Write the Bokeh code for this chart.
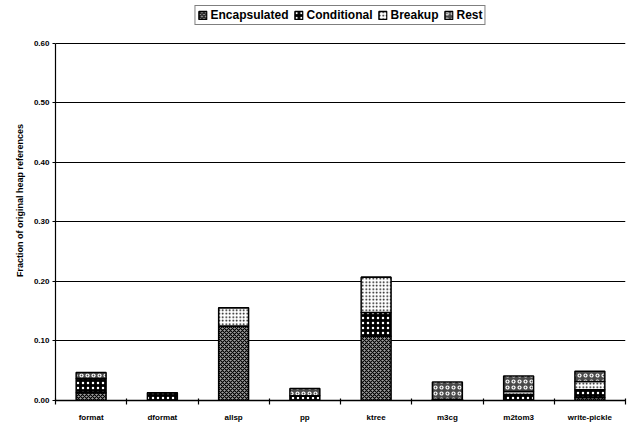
from bokeh.plotting import figure
from bokeh.models import (ColumnDataSource, Range1d, FixedTicker, Legend, LegendItem, NumeralTickFormatter)
from bokeh.transform import stack
from bokeh.embed import file_html
from bokeh.resources import INLINE

programs = ["format", "dformat", "allsp", "pp", "ktree", "m3cg", "m2tom3", "write-pickle"]
encapsulated = [0.013, 0.000, 0.125, 0.000, 0.108, 0.000, 0.000, 0.005]
conditional = [0.024, 0.013, 0.000, 0.008, 0.040, 0.002, 0.010, 0.013]
breakup = [0.000, 0.000, 0.031, 0.000, 0.059, 0.000, 0.005, 0.014]
rest = [0.010, 0.000, 0.000, 0.012, 0.000, 0.029, 0.026, 0.017]
series = ["Encapsulated", "Conditional", "Breakup", "Rest"]
y_ticks = [0.0, 0.1, 0.2, 0.3, 0.4, 0.5, 0.6]

xs = [i + 0.5 for i in range(len(programs))]
source = ColumnDataSource(dict(x=xs, Encapsulated=encapsulated, Conditional=conditional,
                               Breakup=breakup, Rest=rest))

FONT = "Liberation Sans"

p = figure(width=628, height=424, output_backend="svg", toolbar_location=None,
           x_range=Range1d(0, 8), y_range=Range1d(0, 0.672),
           min_border_left=55, min_border_right=3, min_border_top=0, min_border_bottom=22)
p.outline_line_color = None

styles = [
    dict(fill_color="#a0a0a0", hatch_pattern="diagonal_cross", hatch_color="black", hatch_scale=4, hatch_weight=1.1),
    dict(fill_color="black", hatch_pattern="dot", hatch_color="white", hatch_scale=5, hatch_weight=1.5),
    dict(fill_color="white", hatch_pattern="dot", hatch_color="black", hatch_scale=3.5, hatch_weight=1.5),
    dict(fill_color="#4a4a4a", hatch_pattern="ring", hatch_color="white", hatch_scale=6, hatch_weight=1.2),
]

renderers = []
for i, name in enumerate(series):
    r = p.vbar(x="x", width=0.42, bottom=stack(*series[:i]),
               top=stack(*series[:i + 1]), source=source,
               line_color="black", line_width=1.5, **styles[i])
    renderers.append(r)

legend = Legend(items=[LegendItem(label=n, renderers=[r]) for n, r in zip(series, renderers)],
                orientation="horizontal", location="top_center")
legend.label_text_font = FONT
legend.label_text_font_style = "bold"
legend.label_text_font_size = "12px"
legend.label_text_color = "black"
legend.glyph_width = 10
legend.glyph_height = 10
legend.spacing = 5
legend.label_standoff = 3
legend.padding = 2
legend.margin = 5
legend.border_line_color = "black"
legend.border_line_width = 1.2
legend.label_height = 12
p.add_layout(legend, "center")

p.ygrid.ticker = FixedTicker(ticks=y_ticks)
p.ygrid.grid_line_color = "black"
p.ygrid.grid_line_width = 1.2
p.xgrid.grid_line_color = None

p.yaxis.ticker = FixedTicker(ticks=y_ticks)
p.yaxis.bounds = (0, 0.6)
p.yaxis.formatter = NumeralTickFormatter(format="0.00")
p.yaxis.axis_label = "Fraction of original heap references"
p.yaxis.axis_label_text_font = FONT
p.yaxis.axis_label_text_font_style = "bold"
p.yaxis.axis_label_text_font_size = "9px"
p.yaxis.axis_label_text_color = "black"
p.yaxis.axis_label_standoff = 6
p.yaxis.major_label_text_font = FONT
p.yaxis.major_label_text_font_style = "bold"
p.yaxis.major_label_text_font_size = "8px"
p.yaxis.major_label_text_color = "black"
p.yaxis.major_label_standoff = 3
p.yaxis.major_tick_out = 3
p.yaxis.major_tick_in = 0
p.yaxis.minor_tick_line_color = None
p.yaxis.axis_line_width = 1.2
p.yaxis.axis_line_color = "black"

p.xaxis.ticker = FixedTicker(ticks=xs, minor_ticks=list(range(len(programs) + 1)))
p.xaxis.major_label_overrides = {x: n for x, n in zip(xs, programs)}
p.xaxis.major_tick_line_color = None
p.xaxis.major_tick_out = 0
p.xaxis.major_tick_in = 0
p.xaxis.minor_tick_out = 4
p.xaxis.minor_tick_in = 2
p.xaxis.minor_tick_line_width = 1.2
p.xaxis.minor_tick_line_color = "black"
p.xaxis.major_label_standoff = 8
p.xaxis.major_label_text_font = FONT
p.xaxis.major_label_text_font_style = "bold"
p.xaxis.major_label_text_font_size = "8px"
p.xaxis.major_label_text_color = "black"
p.xaxis.axis_line_width = 1.5
p.xaxis.axis_line_color = "black"

open("out.html", "w").write(file_html(p, INLINE))
